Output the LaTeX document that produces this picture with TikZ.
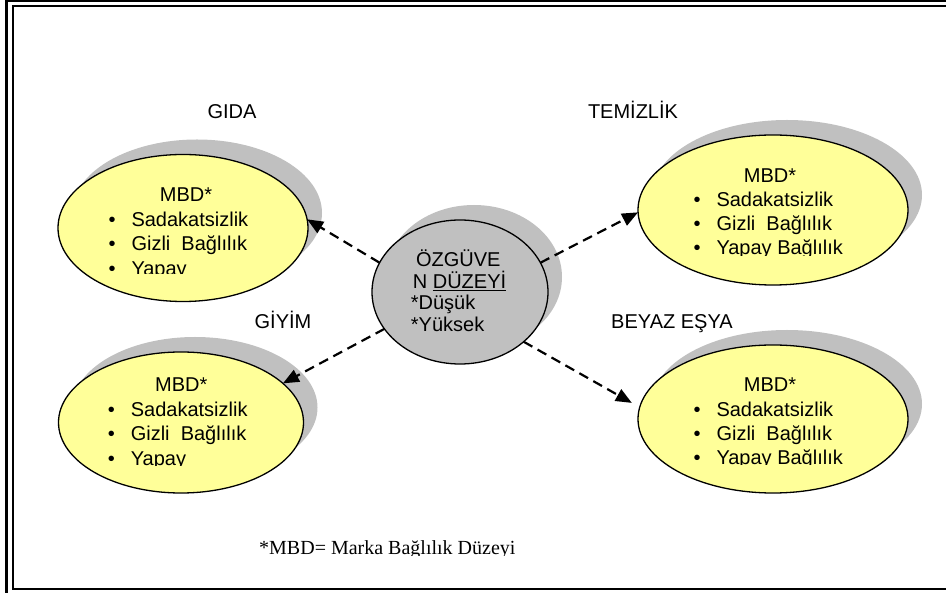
\documentclass[tikz,border=0pt]{standalone}
\usepackage{fontspec}
\setmainfont{Liberation Sans}
\newfontfamily\timesfont{Liberation Serif}
\usetikzlibrary{shapes.geometric,shadows,arrows.meta}
\definecolor{sari}{RGB}{255,255,153}
\definecolor{golgegri}{RGB}{192,192,192}
\newcommand{\madde}[1]{\textbullet\hspace{16pt}#1}
\tikzset{
  elips/.style={ellipse, draw=black, line width=1.3pt, fill=sari, inner sep=0pt, outer sep=0pt,
    drop shadow={shadow xshift=14pt, shadow yshift=15pt, fill=golgegri, opacity=1}},
  yazi/.style={anchor=base, font=\fontsize{20}{24}\selectfont, inner sep=0pt},
  sol/.style={yazi, anchor=base west},
  ok/.style={line width=2.2pt, dash pattern=on 10pt off 6pt, -{Triangle[length=16pt,width=13pt]}}
}
\begin{document}
\begin{tikzpicture}[x=1pt,y=-1pt]
    \useasboundingbox (0,0) rectangle (946,593);
    \clip (0,0) rectangle (946,593);
    % cerceve
    \draw[line width=3pt] (6.5,1) rectangle (960,600);
    \draw[line width=2pt] (13,6) rectangle (955,589);
    % basliklar
    \node[yazi] (gidabaslik) at (232,119) {GIDA};
    \node[yazi] (temizlikbaslik) at (633,119) {TEMİZLİK};
    \node[yazi] (giyimbaslik) at (283,329) {GİYİM};
    \node[yazi] (beyazbaslik) at (672,329) {BEYAZ EŞYA};
    % elipsler
    \node[elips, minimum width=250pt, minimum height=147pt] (gida) at (183,228) {};
    \node[elips, minimum width=270pt, minimum height=150pt] (temizlik) at (773,210) {};
    \node[elips, minimum width=245pt, minimum height=141pt] (giyim) at (181,422.5) {};
    \node[elips, minimum width=270pt, minimum height=148pt] (beyaz) at (773,419) {};
    \node[elips, fill=golgegri, minimum width=176pt, minimum height=144pt] (ozguven) at (460,292) {};
    % gida
    \node[yazi] (gidambd) at (186,201.7) {MBD*};
    \begin{scope}
        \clip (60,150) rectangle (310,273.5);
        \node[sol] (gida1) at (108.3,226.7) {\madde{Sadakatsizlik}};
        \node[sol] (gida2) at (108.3,251) {\madde{Gizli\ \ Bağlılık}};
        \node[sol] (gida3) at (108.3,275.3) {\madde{Yapay}};
    \end{scope}
    % temizlik
    \node[yazi] (temizlikmbd) at (770,182.3) {MBD*};
    \begin{scope}
        \clip (640,150) rectangle (905,255.5);
        \node[sol] (temizlik1) at (693.3,206.3) {\madde{Sadakatsizlik}};
        \node[sol] (temizlik2) at (693.3,230.7) {\madde{Gizli\ \ Bağlılık}};
        \node[sol] (temizlik3) at (693.3,255) {\madde{Yapay Bağlılık}};
    \end{scope}
    % giyim
    \node[yazi] (giyimmbd) at (181.3,391.7) {MBD*};
    \begin{scope}
        \clip (60,360) rectangle (305,465.5);
        \node[sol] (giyim1) at (107.6,416.7) {\madde{Sadakatsizlik}};
        \node[sol] (giyim2) at (107.6,441) {\madde{Gizli\ \ Bağlılık}};
        \node[sol] (giyim3) at (107.6,465.3) {\madde{Yapay}};
    \end{scope}
    % beyaz esya
    \node[yazi] (beyazmbd) at (770,391.7) {MBD*};
    \begin{scope}
        \clip (640,360) rectangle (905,464.5);
        \node[sol] (beyaz1) at (693.3,416.7) {\madde{Sadakatsizlik}};
        \node[sol] (beyaz2) at (693.3,441) {\madde{Gizli\ \ Bağlılık}};
        \node[sol] (beyaz3) at (693.3,465) {\madde{Yapay Bağlılık}};
    \end{scope}
    % orta
    \node[yazi] (oz1) at (458.3,266.7) {ÖZGÜVE};
    \node[yazi] (oz2) at (459.5,288.3) {N \underline{DÜZEYİ}};
    \node[sol] (oz3) at (410.7,310) {*Düşük};
    \node[sol] (oz4) at (410.7,331.7) {*Yüksek};
    % oklar
    \draw[ok] (ozguven.160) -- (gida.4);
    \draw[ok] (ozguven.20) -- (temizlik.181);
    \draw[ok] (ozguven.206) -- (giyim.21);
    \draw[ok, shorten >=9pt] (ozguven.-38) -- (beyaz.175);
    % dipnot
    \begin{scope}
        \clip (250,530) rectangle (530,556);
        \node[anchor=base west, font=\timesfont\fontsize{20}{24}\selectfont, inner sep=0pt] (dipnot) at (259,555) {*MBD= Marka Bağlılık Düzeyi};
    \end{scope}
\end{tikzpicture}
\end{document}
